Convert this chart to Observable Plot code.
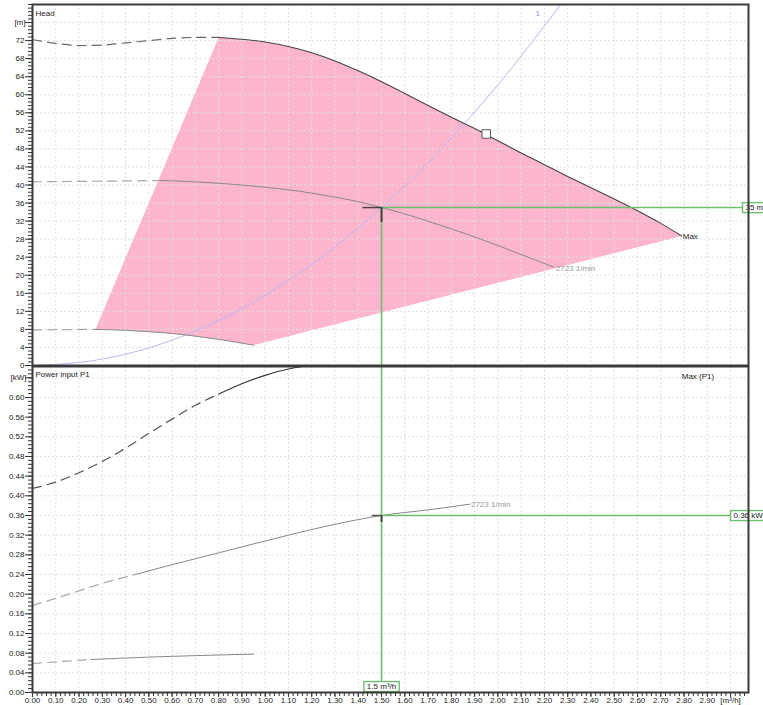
<!DOCTYPE html>
<html><head><meta charset="utf-8">
<script src="https://cdn.jsdelivr.net/npm/d3@7"></script>
<script src="https://cdn.jsdelivr.net/npm/@observablehq/plot@0.6"></script>
<style>
body{margin:0;background:#fff;}
#chart{width:763px;height:705px;overflow:hidden;position:relative;}
#chart svg{display:block;}
</style></head><body><div id="chart"></div>
<script>
// ---------- data ----------
// Head panel, flow q [m³/h] -> head [m]
const headMaxDashQ = [0, 0.1, 0.2, 0.3, 0.4, 0.5, 0.6, 0.7, 0.8];
const headMaxDashH = [72.2, 71.4, 70.9, 71.0, 71.5, 72.0, 72.5, 72.7, 72.7];
const headMaxQ = [0.8, 0.9, 1.0, 1.1, 1.2, 1.3, 1.4, 1.5, 1.6, 1.7, 1.8, 1.9, 2.0, 2.1, 2.2, 2.3, 2.4, 2.5, 2.6, 2.7, 2.79];
const headMaxH = [72.7, 72.3, 71.7, 70.7, 69.3, 67.5, 65.3, 62.9, 60.3, 57.6, 55.0, 52.5, 49.8, 47.1, 44.5, 41.9, 39.4, 36.9, 34.3, 31.5, 28.7];

const head2723DashQ = [0, 0.2, 0.4, 0.55];
const head2723DashH = [40.7, 40.8, 40.9, 41.0];
const head2723Q = [0.55, 0.7, 0.85, 1.0, 1.15, 1.28, 1.4, 1.5, 1.6, 1.71, 1.85, 2.01, 2.12, 2.24];
const head2723H = [41.0, 40.7, 40.2, 39.5, 38.6, 37.5, 36.3, 35.0, 33.6, 31.8, 29.4, 26.4, 24.2, 21.8];

const headMinDashQ = [0, 0.27];
const headMinDashH = [7.9, 8.0];
const headMinQ = [0.27, 0.4, 0.5, 0.6, 0.7, 0.8, 0.95];
const headMinH = [8.0, 7.8, 7.5, 7.1, 6.5, 5.8, 4.5];

const systemQ = [0, 0.25, 0.5, 0.75, 1.0, 1.25, 1.5, 1.75, 2.0, 2.27];
const systemH = [0, 1.0, 3.9, 8.8, 15.6, 24.3, 35.0, 47.6, 62.2, 80.0];

// Power panel, flow q -> P1 [kW]
const powMaxDashQ = [0, 0.1, 0.2, 0.3, 0.4, 0.5, 0.6, 0.7, 0.8];
const powMaxDashP = [0.415, 0.428, 0.447, 0.470, 0.497, 0.527, 0.556, 0.584, 0.607];
const powMaxQ = [0.8, 0.9, 1.0, 1.1, 1.16];
const powMaxP = [0.607, 0.628, 0.645, 0.658, 0.663];

const pow2723DashQ = [0, 0.15, 0.3, 0.45];
const pow2723DashP = [0.177, 0.199, 0.222, 0.241];
const pow2723Q = [0.45, 0.6, 0.8, 0.94, 1.1, 1.28, 1.5, 1.71, 1.88];
const pow2723P = [0.241, 0.260, 0.284, 0.301, 0.320, 0.340, 0.360, 0.372, 0.383];

const powMinDashQ = [0, 0.25];
const powMinDashP = [0.059, 0.067];
const powMinQ = [0.25, 0.5, 0.7, 0.95];
const powMinP = [0.067, 0.072, 0.075, 0.078];

// operating point and marker
const opQ = 1.5, opH = 35, opP = 0.36;
const squareQ = [1.95], squareH = [51.3];

// labels
const speedLabel = "2723 1/min";
const maxLabel = "Max";
const maxP1Label = "Max (P1)";
const systemLabel = "1";
const headTitle = "Head", headUnit = "[m]";
const powTitle = "Power input P1", powUnit = "[kW]";
const qUnit = "[m³/h]";
const opQLabel = "1.5 m³/h", opHLabel = "35 m", opPLabel = "0.36 kW";

// ticks
const qTicks = [0.0,0.1,0.2,0.3,0.4,0.5,0.6,0.7,0.8,0.9,1.0,1.1,1.2,1.3,1.4,1.5,1.6,1.7,1.8,1.9,2.0,2.1,2.2,2.3,2.4,2.5,2.6,2.7,2.8,2.9];
const qUnitTick = 3.0;
const headTicks = [0,4,8,12,16,20,24,28,32,36,40,44,48,52,56,60,64,68,72];
const headUnitTick = 76;
const powTicks = [0.00,0.04,0.08,0.12,0.16,0.20,0.24,0.28,0.32,0.36,0.40,0.44,0.48,0.52,0.56,0.60];
const powUnitTick = 0.64;
const qGrid = [0.1,0.2,0.3,0.4,0.5,0.6,0.7,0.8,0.9,1.0,1.1,1.2,1.3,1.4,1.5,1.6,1.7,1.8,1.9,2.0,2.1,2.2,2.3,2.4,2.5,2.6,2.7,2.8,2.9,3.0];
const headGrid = [4,8,12,16,20,24,28,32,36,40,44,48,52,56,60,64,68,72,76];
const powGrid = [0.04,0.08,0.12,0.16,0.20,0.24,0.28,0.32,0.36,0.40,0.44,0.48,0.52,0.56,0.60,0.64];

const xDomain = [0, 3.077];
const headDomain = [0, 80];
const powDomain = [0, 0.663];

// ---------- helpers ----------
const zip = (qs, vs) => qs.map((q, i) => ({q, v: vs[i]}));
const last = a => a[a.length - 1];

const W = 763;
const style = {fontFamily: "'Liberation Sans', Arial, sans-serif", fontSize: "8px", background: "transparent", overflow: "visible", color: "#222"};
const GREEN = "#6cbf6c";
const PINK = "#fcb5cd";
const GRIDC = "#e0e0e0";
const dash = "9,6";

const headMaxDash = zip(headMaxDashQ, headMaxDashH), headMax = zip(headMaxQ, headMaxH);
const h2723Dash = zip(head2723DashQ, head2723DashH), h2723 = zip(head2723Q, head2723H);
const hMinDash = zip(headMinDashQ, headMinDashH), hMin = zip(headMinQ, headMinH);
const sys = zip(systemQ, systemH);
const envelope = [...headMax, ...hMin.slice().reverse()];

const pMaxDash = zip(powMaxDashQ, powMaxDashP), pMax = zip(powMaxQ, powMaxP);
const p2723Dash = zip(pow2723DashQ, pow2723DashP), p2723 = zip(pow2723Q, pow2723P);
const pMinDash = zip(powMinDashQ, powMinDashP), pMin = zip(powMinQ, powMinP);

const qMinor = d3.range(0, 3.07, 0.02);
const headMinor = d3.range(0, 80.01, 0.8);
const powMinor = d3.range(0, 0.6631, 0.008);

const line = (data, o) => Plot.line(data, {x: "q", y: "v", curve: "monotone-x", ...o});

// ---------- head panel ----------
const topPlot = Plot.plot({
  width: W, height: 366, marginTop: 4, marginBottom: 1, marginLeft: 32, marginRight: 15,
  x: {domain: xDomain, axis: null},
  y: {domain: headDomain, label: null},
  style,
  marks: [
    Plot.line(envelope, {x: "q", y: "v", fill: PINK, stroke: "none", curve: "linear"}),
    Plot.gridX(qGrid, {stroke: GRIDC, strokeOpacity: 1, strokeDasharray: "2,2"}),
    Plot.gridY(headGrid, {stroke: GRIDC, strokeOpacity: 1, strokeDasharray: "2,2"}),
    line(sys, {stroke: "#b8b8f4", strokeWidth: 1}),
    line(headMaxDash, {stroke: "#6a6a6a", strokeWidth: 1.2, strokeDasharray: dash}),
    line(headMax, {stroke: "#444", strokeWidth: 1.1}),
    line(h2723Dash, {stroke: "#aaa", strokeWidth: 1.2, strokeDasharray: dash}),
    line(h2723, {stroke: "#888", strokeWidth: 1}),
    line(hMinDash, {stroke: "#aaa", strokeWidth: 1.2, strokeDasharray: dash}),
    line(hMin, {stroke: "#888", strokeWidth: 1}),
    // operating point guides
    Plot.ruleX([opQ], {y1: opH, y2: 0, stroke: GREEN, strokeWidth: 1.6}),
    Plot.ruleY([opH], {x1: opQ, x2: xDomain[1], stroke: GREEN, strokeWidth: 1.6}),
    Plot.ruleY([opH], {x1: opQ - 0.08, x2: opQ, stroke: "#444", strokeWidth: 1.5}),
    Plot.ruleX([opQ], {y1: opH, y2: opH - 3.3, stroke: "#444", strokeWidth: 2}),
    Plot.dot(zip(squareQ, squareH), {x: "q", y: "v", symbol: "square", r: 4.8, fill: "white", stroke: "#555", strokeWidth: 1}),
    // labels
    Plot.text([last(headMax)], {x: "q", y: "v", text: () => maxLabel, textAnchor: "start", dx: 1, fill: "#222"}),
    Plot.text([last(h2723)], {x: "q", y: "v", text: () => speedLabel, textAnchor: "start", dx: 2, dy: 1, fill: "#999"}),
    Plot.text([last(sys)], {x: "q", y: "v", text: () => systemLabel, dx: -23, dy: 9, fill: "#8c8ce8"}),
    Plot.text([headTitle], {text: d => d, frameAnchor: "top-left", textAnchor: "start", lineAnchor: "top", dx: 3, dy: 6, fill: "#222"}),
    Plot.text([headUnitTick], {y: d => d, text: () => headUnit, frameAnchor: "left", textAnchor: "end", dx: -7, fill: "#222"}),
    Plot.text([opH], {y: d => d, x: () => xDomain[1], text: () => opHLabel, textAnchor: "start", dx: -3, fill: "#222"}),
    // axis
    Plot.axisY(headMinor, {tickSize: 4, tickFormat: () => "", label: null, stroke: "#333"}),
    Plot.axisY(headTicks, {tickSize: 7, tickPadding: 1, tickFormat: d => String(d), label: null, stroke: "#333", fill: "#222"}),
    Plot.axisY([headUnitTick], {tickSize: 7, tickFormat: () => "", label: null, stroke: "#333"}),
    Plot.frame({stroke: "#3a3a3a", strokeWidth: 2})
  ]
});

// ---------- power panel ----------
const botPlot = Plot.plot({
  width: W, height: 339, marginTop: 0, marginBottom: 13, marginLeft: 32, marginRight: 15,
  x: {domain: xDomain, label: null},
  y: {domain: powDomain, label: null},
  style,
  marks: [
    Plot.gridX(qGrid, {stroke: GRIDC, strokeOpacity: 1, strokeDasharray: "2,2"}),
    Plot.gridY(powGrid, {stroke: GRIDC, strokeOpacity: 1, strokeDasharray: "2,2"}),
    line(pMaxDash, {stroke: "#555", strokeWidth: 1.2, strokeDasharray: dash}),
    line(pMax, {stroke: "#333", strokeWidth: 1.1}),
    line(p2723Dash, {stroke: "#aaa", strokeWidth: 1.2, strokeDasharray: dash}),
    line(p2723, {stroke: "#888", strokeWidth: 1}),
    line(pMinDash, {stroke: "#aaa", strokeWidth: 1.2, strokeDasharray: dash}),
    line(pMin, {stroke: "#888", strokeWidth: 1}),
    Plot.ruleX([opQ], {y1: powDomain[1], y2: 0, stroke: GREEN, strokeWidth: 1.6}),
    Plot.ruleY([opP], {x1: opQ, x2: xDomain[1], stroke: GREEN, strokeWidth: 1.6}),
    Plot.ruleY([opP], {x1: opQ - 0.04, x2: opQ, stroke: "#555", strokeWidth: 1.5}),
    Plot.ruleX([opQ], {y1: opP, y2: opP - 0.014, stroke: "#444", strokeWidth: 2}),
    Plot.text([last(p2723)], {x: "q", y: "v", text: () => speedLabel, textAnchor: "start", dx: 1, fill: "#999"}),
    Plot.text([last(headMaxQ)], {x: d => d, text: () => maxP1Label, frameAnchor: "top", textAnchor: "start", dy: 7, fill: "#222"}),
    Plot.text([powTitle], {text: d => d, frameAnchor: "top-left", textAnchor: "start", lineAnchor: "top", dx: 3, dy: 5, fill: "#222"}),
    Plot.text([powUnitTick], {y: d => d, text: () => powUnit, frameAnchor: "left", textAnchor: "end", dx: -6, fill: "#222"}),
    Plot.text([opP], {y: d => d, x: () => xDomain[1], text: () => opPLabel, textAnchor: "start", dx: -15, fill: "#222"}),
    Plot.text([opQ], {x: d => d, y: () => 0, text: () => opQLabel, textAnchor: "middle", dy: -6, fill: "#222"}),
    Plot.axisY(powMinor, {tickSize: 4, tickFormat: () => "", label: null, stroke: "#333"}),
    Plot.axisY(powTicks, {tickSize: 7, tickPadding: 1, tickFormat: d3.format(".2f"), label: null, stroke: "#333", fill: "#222"}),
    Plot.axisY([powUnitTick], {tickSize: 7, tickFormat: () => "", label: null, stroke: "#333"}),
    Plot.axisX(qMinor, {tickSize: 4, tickFormat: () => "", label: null, stroke: "#333"}),
    Plot.axisX(qTicks, {tickSize: 5, tickPadding: 0, tickFormat: d3.format(".2f"), label: null, stroke: "#333", fill: "#222"}),
    Plot.axisX([qUnitTick], {tickSize: 5, tickPadding: 0, tickFormat: () => qUnit, label: null, stroke: "#333", fill: "#222"}),
    Plot.frame({stroke: "#3a3a3a", strokeWidth: 2})
  ]
});

const chart = document.getElementById("chart");
chart.appendChild(topPlot);
chart.appendChild(botPlot);

// boxed annotation labels
function boxify(svg, labels) {
  svg.querySelectorAll("text").forEach(t => {
    if (!labels.includes(t.textContent)) return;
    const b = t.getBBox();
    const r = document.createElementNS("http://www.w3.org/2000/svg", "rect");
    r.setAttribute("x", b.x - 3);
    r.setAttribute("y", b.y - 0.5);
    r.setAttribute("width", b.width + 6);
    r.setAttribute("height", b.height + 1);
    r.setAttribute("fill", "white");
    r.setAttribute("stroke", GREEN);
    r.setAttribute("stroke-width", 1.4);
    const tr = t.getAttribute("transform");
    if (tr) r.setAttribute("transform", tr);
    t.parentNode.insertBefore(r, t);
  });
}
boxify(topPlot, [opHLabel]);
boxify(botPlot, [opPLabel, opQLabel]);
</script></body></html>
